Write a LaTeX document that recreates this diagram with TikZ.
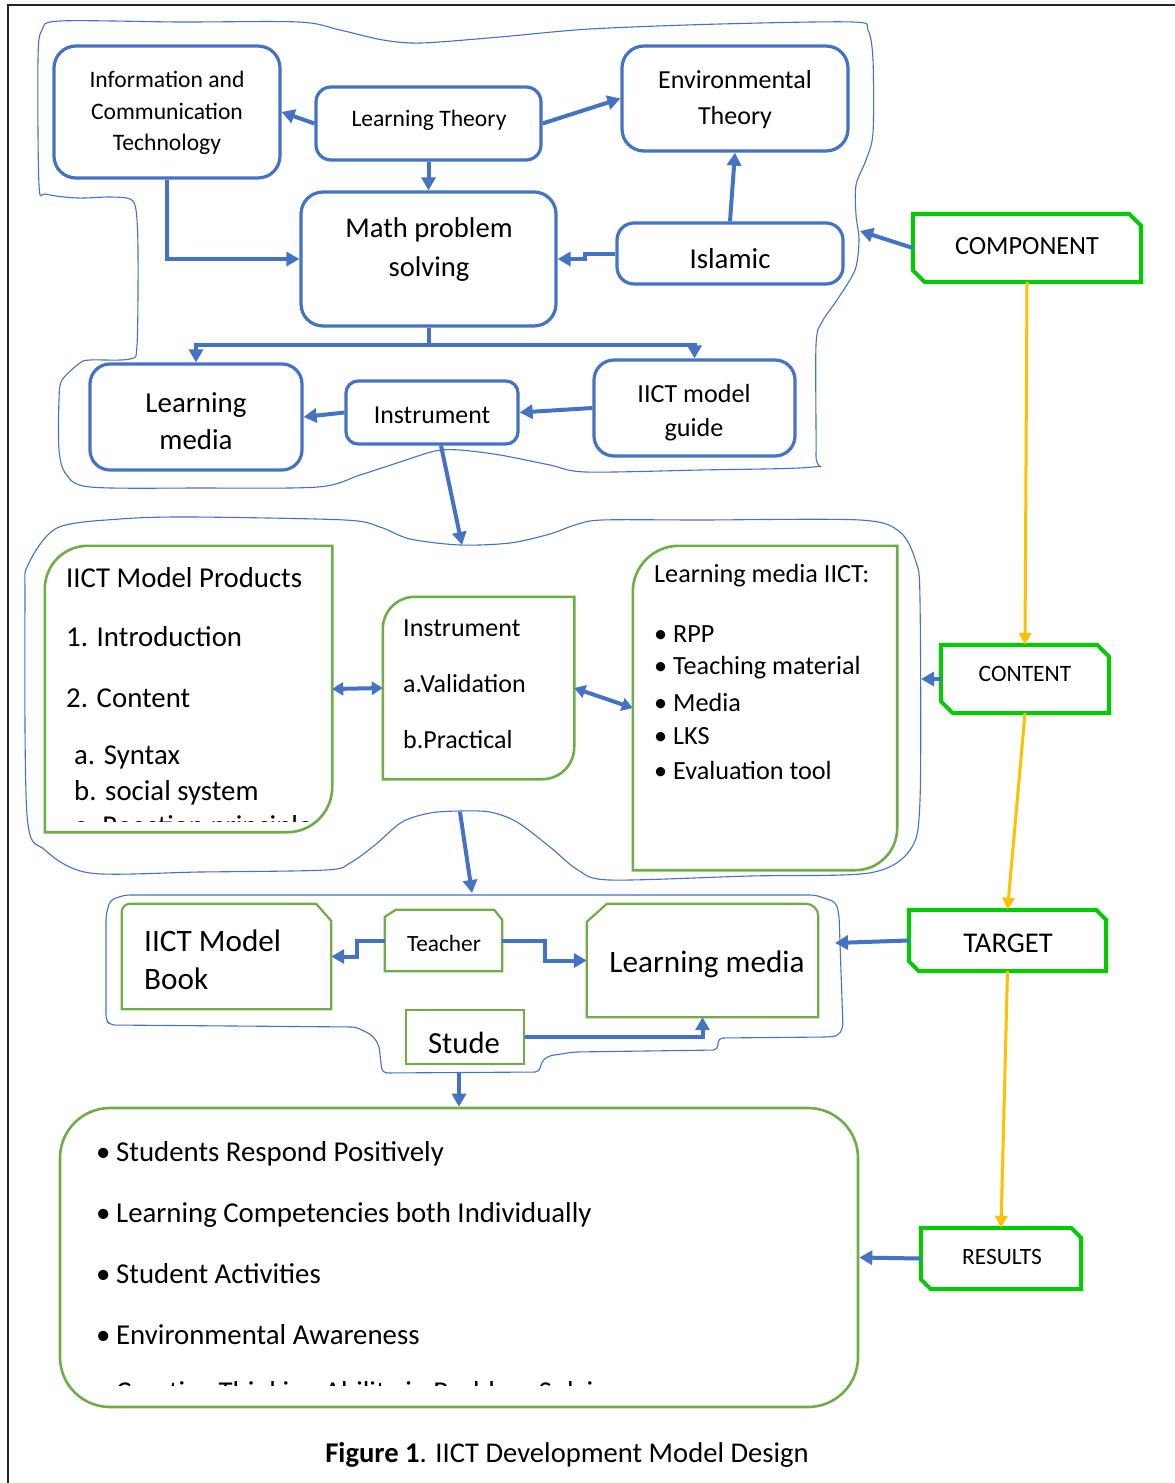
\documentclass[tikz,border=0pt]{standalone}
\usepackage{fontspec}
\setmainfont{Carlito}
\usetikzlibrary{arrows.meta,calc}
\definecolor{blu}{HTML}{4472C4}
\definecolor{grn}{HTML}{70AD47}
\definecolor{brg}{HTML}{00CC00}
\definecolor{orng}{HTML}{FFC000}
\newcommand\fs[2]{\fontsize{#1}{#2}\selectfont}
\newcommand\rdiag[3]{% name, radius top-left, radius bottom-right
 \draw[gline] (#1.south west) -- ($(#1.north west)+(0,#2)$)
  .. controls ($(#1.north west)+(0,0.448*#2)$) and ($(#1.north west)+(0.448*#2,0)$) .. ($(#1.north west)+(#2,0)$)
  -- (#1.north east) -- ($(#1.south east)+(0,-#3)$)
  .. controls ($(#1.south east)+(0,-0.448*#3)$) and ($(#1.south east)+(-0.448*#3,0)$) .. ($(#1.south east)+(-#3,0)$)
  -- cycle;}
\newcommand\chamf[2]{% name, cut
 \draw[cline] (#1.north west) -- ($(#1.north east)+(-#2,0)$) -- ($(#1.north east)+(0,#2)$)
  -- (#1.south east) -- ($(#1.south west)+(#2,0)$) -- ($(#1.south west)+(0,-#2)$) -- cycle;}
\begin{document}
\begin{tikzpicture}[x=1pt,y=-1pt,
  bbox/.style={draw=blu, line width=3.2pt, rounded corners=#1, inner sep=0pt},
  bbox/.default=15pt,
  gbox/.style={inner sep=0pt},
  txt/.style={inner sep=0pt, align=center, text=black, yshift=-2pt},
  ltxt/.style={inner sep=0pt, anchor=west, align=left, text=black, yshift=-2pt},
  barr/.style={draw=blu, line width=4pt, -{Triangle[length=13pt,width=14pt]}},
  darr/.style={draw=blu, line width=4pt, {Triangle[length=11pt,width=13pt]}-{Triangle[length=11pt,width=13pt]}},
  oarr/.style={draw=orng, line width=3pt, -{Triangle[length=12pt,width=12pt]}},
  blob/.style={draw=blu, line width=1.1pt},
  gline/.style={draw=grn, line width=2.6pt},
  cline/.style={draw=brg, line width=4pt},
]
\useasboundingbox (0,0) rectangle (1175,1483);
\fill[white] (0,0) rectangle (1175,1483);
% frame
\draw[line width=2pt, black!85] (8,1483) -- (8,5) -- (1175,5);

% ---------- blobs ----------
\draw[blob] plot[smooth cycle, tension=0.5] coordinates {
 (38,60) (42,30) (60,21) (180,22) (299,22) (340,30) (383,40) (421,43) (500,37) (590,29) (720,24) (853,22) (868,30) (873,60) (873,133) (866,160) (856,185) (856,215) (859,240) (855,270) (837,300) (822,322) (816,345) (816,455) (813,467) (700,470) (586,472) (550,465) (500,455) (460,450) (435,451) (400,462) (360,475) (318,487) (200,488) (90,487) (66,474) (59,450) (59,400) (62,380) (80,363) (90,360) (130,359) (137,345) (138,250) (136,210) (130,199) (110,197) (77,198) (46,194) (39,185)};
\draw[blob] plot[smooth cycle, tension=0.5] coordinates {
 (25,600) (28,565) (57,528) (120,519) (192,517) (345,520) (380,527) (410,539) (460,545) (510,543) (550,534) (575,525) (602,520) (700,520) (860,520) (900,532) (916,562) (920,600) (920,800) (910,850) (869,873) (750,876) (610,880) (578,870) (550,847) (517,822) (490,812) (460,811) (430,813) (402,822) (375,845) (350,863) (326,870) (200,872) (90,873) (45,850) (27,815)};
\draw[blob, rounded corners=5pt] (106,915) -- (110,900) -- (125,895) -- (815,895) -- (836,902) -- (839,915) -- (843,1028) -- (838,1036) -- (827,1037) -- (718,1038) -- (718,1050) -- (574,1052) -- (548,1056) -- (541,1062) -- (540,1072) -- (382,1073) -- (379,1045) -- (372,1035) -- (356,1027) -- (110,1025) -- (106,1020) -- cycle;

\coordinate (tbIn) at (860,231);
\coordinate (mbTop) at (462,545);
\coordinate (mbBot) at (460,812);
\coordinate (mbRight) at (921,679);
\coordinate (bbTop) at (472,893);
\coordinate (bbRight) at (835,943);
\coordinate (bbBot) at (459,1073);

% ---------- top blue boxes ----------
\node[bbox=22pt, minimum width=226pt, minimum height=132pt] (ict) at (167,112) {};
\node[txt, font={\fs{23.6}{31.5}}] (ictT) at (167,111) {Information and\\Communication\\Technology};
\node[bbox=15pt, minimum width=225pt, minimum height=73pt] (lt) at (428.5,123.5) {};
\node[txt, font={\fs{23.6}{28}}] (ltT) at (429,118) {Learning Theory};
\node[bbox=22pt, minimum width=226pt, minimum height=105pt] (env) at (735,98.5) {};
\node[txt, font={\fs{26}{36}}] (envT) at (735,98) {Environmental\\Theory};
\node[bbox=22pt, minimum width=255pt, minimum height=134pt] (math) at (428.5,259) {};
\node[txt, font={\fs{28.6}{39}}] (mathT) at (429,248) {Math problem\\solving};
\node[bbox=17pt, minimum width=226pt, minimum height=61pt] (isl) at (730,253.5) {};
\node[txt, font={\fs{28.9}{32}}] (islT) at (730,257) {Islamic};
\node[bbox=20pt, minimum width=212pt, minimum height=106pt] (lm) at (196,417) {};
\node[txt, font={\fs{28.9}{37}}] (lmT) at (196,419) {Learning\\media};
\node[bbox=12pt, minimum width=172pt, minimum height=63pt] (ins) at (432,412.5) {};
\node[txt, font={\fs{25.8}{30}}] (insT) at (432,413) {Instrument};
\node[bbox=20pt, minimum width=201pt, minimum height=96pt] (guide) at (694.5,408) {};
\node[txt, font={\fs{26.1}{34}}] (guideT) at (694,411) {IICT model\\guide};

% ---------- right column ----------
\node[gbox, minimum width=228pt, minimum height=68pt] (comp) at (1027,248) {};
\chamf{comp}{12}
\node[txt, font={\fs{26.2}{30}}] (compT) at (1027,244) {COMPONENT};
\node[gbox, minimum width=168pt, minimum height=68pt] (cont) at (1025,679) {};
\chamf{cont}{12}
\node[txt, font={\fs{23.5}{28}}] (contT) at (1025,672) {CONTENT};
\node[gbox, minimum width=197pt, minimum height=61pt] (tgt) at (1007.5,940.5) {};
\chamf{tgt}{10}
\node[txt, font={\fs{28.6}{32}}] (tgtT) at (1008,941) {TARGET};
\node[gbox, minimum width=160pt, minimum height=61pt] (res) at (1001,1258.5) {};
\chamf{res}{10}
\node[txt, font={\fs{23.4}{28}}] (resT) at (1002,1255) {RESULTS};

% ---------- middle green boxes ----------
\node[gbox, minimum width=287pt, minimum height=286pt] (prod) at (188.5,689) {};
\rdiag{prod}{43}{45}
\node[ltxt, font={\fs{28.8}{34}}] (p1) at (66,576) {IICT Model Products};
\node[ltxt, font={\fs{28.8}{34}}] (p2) at (66,635) {1. Introduction};
\node[ltxt, font={\fs{28.8}{34}}] (p3) at (66,696) {2. Content};
\node[ltxt, font={\fs{28.8}{34}}] (p4) at (74,755) {a. Syntax};
\node[ltxt, font={\fs{28.8}{34}}] (p5) at (74,791) {b. social system};
\begin{scope}
\clip (40,540) rectangle (340,821);
\node[ltxt, font={\fs{28.8}{34}}] (p6) at (74,826) {c. Reaction principle};
\end{scope}

\node[gbox, minimum width=191pt, minimum height=182pt] (minst) at (478.5,688) {};
\rdiag{minst}{32}{32}
\node[ltxt, font={\fs{26}{30}}] (m1) at (403,626) {Instrument};
\node[ltxt, font={\fs{26}{30}}] (m2) at (403,682) {a.Validation};
\node[ltxt, font={\fs{26}{30}}] (m3) at (403,738) {b.Practical};

\node[gbox, minimum width=264pt, minimum height=324pt] (lmi) at (765,708) {};
\rdiag{lmi}{46}{42}
\node[ltxt, font={\fs{26.2}{30}}] (l0) at (654,574) {Learning media IICT:};
\node[ltxt, font={\fs{26.2}{30}}] (l1) at (654,632) {\makebox[19pt][l]{•}RPP};
\node[ltxt, font={\fs{26.2}{30}}] (l2) at (654,666) {\makebox[19pt][l]{•}Teaching material};
\node[ltxt, font={\fs{26.2}{30}}] (l3) at (654,700) {\makebox[19pt][l]{•}Media};
\node[ltxt, font={\fs{26.2}{30}}] (l4) at (654,734) {\makebox[19pt][l]{•}LKS};
\node[ltxt, font={\fs{26.2}{30}}] (l5) at (654,768) {\makebox[19pt][l]{•}Evaluation tool};

% ---------- bottom group ----------
\node[gbox, minimum width=209pt, minimum height=105pt] (book) at (226.5,956.5) {};
\draw[gline, line width=2.2pt] (book.south west) -- ($(book.north west)+(0,8)$)
  .. controls ($(book.north west)+(0,3.6)$) and ($(book.north west)+(3.6,0)$) .. ($(book.north west)+(8,0)$)
  -- ($(book.north east)+(-15,0)$) -- ($(book.north east)+(0,17)$) -- (book.south east) -- cycle;
\node[ltxt, font={\fs{31.2}{38}}] (bookT) at (144,958) {IICT Model\\Book};

\node[gbox, minimum width=117pt, minimum height=61pt] (teach) at (443.5,940.5) {};
\draw[gline, line width=2.2pt] (teach.south west) -- ($(teach.north west)+(0,7)$) -- ($(teach.north west)+(11,0)$)
  -- ($(teach.north east)+(-8,0)$) -- ($(teach.north east)+(0,10)$) -- (teach.south east) -- cycle;
\node[txt, font={\fs{23.3}{28}}] (teachT) at (444,941) {Teacher};

\node[gbox, minimum width=231pt, minimum height=113pt] (lmb) at (702.5,960.5) {};
\draw[gline, line width=2.2pt] (lmb.south west) -- ($(lmb.north west)+(0,18)$) -- ($(lmb.north west)+(20,0)$)
  -- ($(lmb.north east)+(-12,0)$)
  .. controls ($(lmb.north east)+(-5.4,0)$) and ($(lmb.north east)+(0,5.4)$) .. ($(lmb.north east)+(0,12)$)
  -- (lmb.south east) -- cycle;
\node[txt, font={\fs{31.2}{36}}] (lmbT) at (707,962) {Learning media};

\node[draw=grn, line width=2.2pt, inner sep=0pt, minimum width=118pt, minimum height=54pt] (stude) at (465,1037) {};
\node[txt, font={\fs{30.7}{34}}] (studeT) at (464,1041) {Stude};

% ---------- results box ----------
\node[draw=grn, line width=2.6pt, rounded corners=50pt, inner sep=0pt, minimum width=798pt, minimum height=299pt] (results) at (459,1257.5) {};
\node[ltxt, font={\fs{28.8}{34}}] (r1) at (96,1152) {\makebox[20pt][l]{•}Students Respond Positively};
\node[ltxt, font={\fs{28.8}{34}}] (r2) at (96,1213) {\makebox[20pt][l]{•}Learning Competencies both Individually};
\node[ltxt, font={\fs{28.8}{34}}] (r3) at (96,1272) {\makebox[20pt][l]{•}Student Activities};
\node[ltxt, font={\fs{28.8}{34}}] (r4) at (96,1333) {\makebox[20pt][l]{•}Environmental Awareness};
\begin{scope}
\clip (60,1100) rectangle (860,1385);
\node[ltxt, font={\fs{28.8}{34}}] (r5) at (96,1392) {\makebox[20pt][l]{•}Creative Thinking Ability in Problem Solving};
\end{scope}

% caption
\node[txt, font={\fs{28.6}{32}}] (cap) at (567,1453) {\textbf{Figure 1}. IICT Development Model Design};

% ---------- connectors ----------
\draw[barr] (lt.west) -- (ict.east);
\draw[barr] (lt.east) -- (env.west);
\draw[barr] (lt.south) -- (math.north);
\draw[barr] (ict.south) |- (math.west);
\draw[barr] (isl.west) -- ++(-30,0) |- (math.east);
\draw[barr] (isl.north) -- (env.south);
\draw[barr] (math.south) -- ++(0,17) -| (lm.north);
\draw[barr] (math.south) -- ++(0,17) -| (guide.north);
\draw[barr] (ins.west) -- (lm.east);
\draw[barr] (guide.west) -- (ins.east);
\draw[barr] ($(ins.south)+(9,0)$) -- (mbTop);
\draw[barr] (comp.west) -- (tbIn);

\draw[oarr] (comp.south) -- (cont.north);
\draw[oarr] (cont.south) -- (tgt.north);
\draw[oarr] (tgt.south) -- (res.north);

\draw[barr] (cont.west) -- (mbRight);
\draw[barr] (tgt.west) -- (bbRight);
\draw[barr] (res.west) -- (results.east);

\draw[darr] (prod.east) -- (minst.west);
\draw[darr] (minst.east) -- (lmi.west);
\draw[barr] (mbBot) -- (bbTop);

\draw[barr] (teach.west) -- ++(-28,0) |- (book.east);
\draw[barr] (teach.east) -- ++(43,0) |- (lmb.west);
\draw[barr] (stude.east) -| (lmb.south);
\draw[barr] (bbBot) -- (results.north);
\end{tikzpicture}
\end{document}
